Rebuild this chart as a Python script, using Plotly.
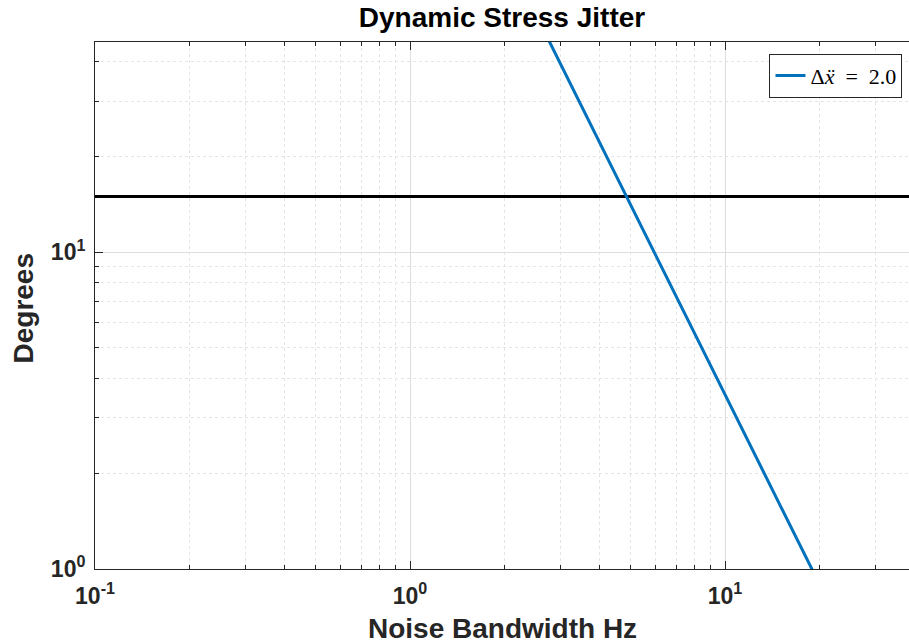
import plotly.graph_objects as go

# Data
bandwidth_hz = [2.5, 3, 4, 5, 6, 8, 10, 12, 15, 20]
jitter_deg = [56.8, 39.4, 22.2, 14.2, 9.86, 5.55, 3.55, 2.47, 1.58, 0.89]
limit_x = [0.1, 40]
limit_y = [15, 15]

x_major = [0.1, 1, 10]
x_major_text = ["<b>10<sup>-1</sup></b>", "<b>10<sup>0</sup></b>", "<b>10<sup>1</sup></b>"]
x_minor = [0.2, 0.3, 0.4, 0.5, 0.6, 0.7, 0.8, 0.9, 2, 3, 4, 5, 6, 7, 8, 9, 20, 30]
y_major = [1, 10]
y_major_text = ["<b>10<sup>0</sup></b>", "<b>10<sup>1</sup></b>"]
y_minor = [2, 3, 4, 5, 6, 7, 8, 9, 20, 30, 40]

fig = go.Figure()
fig.add_trace(go.Scatter(x=limit_x, y=limit_y, mode="lines",
                         line=dict(color="black", width=3), showlegend=False))
fig.add_trace(go.Scatter(x=bandwidth_hz, y=jitter_deg, mode="lines",
                         line=dict(color="#0072BD", width=3),
                         name="\u0394<i>x\u0308</i>\u2005\u2005=\u2005\u20052.0"))

axis_common = dict(
    type="log", showline=True, linecolor="#262626", linewidth=1,
    ticks="inside", ticklen=8, tickcolor="#262626",
    showgrid=True, gridcolor="#dedede", gridwidth=1,
    zeroline=False,
    tickfont=dict(family="Liberation Sans", size=23, color="#262626"),
    tickmode="array",
)

fig.update_xaxes(**axis_common, range=[-1, 1.584], mirror="ticks",
                 tickvals=x_major, ticktext=x_major_text, ticklabelstandoff=6,
                 minor=dict(tickmode="array", tickvals=x_minor, ticks="inside", ticklen=4,
                            tickcolor="#262626", showgrid=True, gridcolor="#e4e4e4",
                            griddash="dot", gridwidth=1))
fig.update_yaxes(**axis_common, range=[0, 1.664],
                 tickvals=y_major, ticktext=y_major_text, ticklabelstandoff=4,
                 minor=dict(tickmode="array", tickvals=y_minor, ticks="inside", ticklen=4,
                            tickcolor="#262626", showgrid=True, gridcolor="#e4e4e4",
                            griddash="dot", gridwidth=1))

fig.update_layout(
    width=909, height=643,
    margin=dict(l=95, r=0, t=42, b=74),
    paper_bgcolor="white", plot_bgcolor="white",
    title=dict(text="<b>Dynamic Stress Jitter</b>", x=0.5, xref="paper",
               y=1 - 17 / 643, yref="container", yanchor="middle", xanchor="center",
               font=dict(family="Liberation Sans", size=28, color="black")),
    legend=dict(x=0.992, y=0.978, xanchor="right", yanchor="top",
                bgcolor="white", bordercolor="#262626", borderwidth=1,
                font=dict(family="Liberation Serif", size=22, color="black")),
    annotations=[
        dict(text="<b>Noise Bandwidth Hz</b>", xref="paper", yref="paper",
             x=0.5, y=0, xanchor="center", yanchor="middle", yshift=-59,
             showarrow=False, font=dict(family="Liberation Sans", size=28, color="#262626")),
        dict(text="<b>Degrees</b>", xref="paper", yref="paper",
             x=0, y=0.5, xanchor="center", yanchor="middle", xshift=-72, yshift=-3,
             textangle=-90, showarrow=False,
             font=dict(family="Liberation Sans", size=28, color="#262626")),
    ],
)

fig.write_html("out.html")
